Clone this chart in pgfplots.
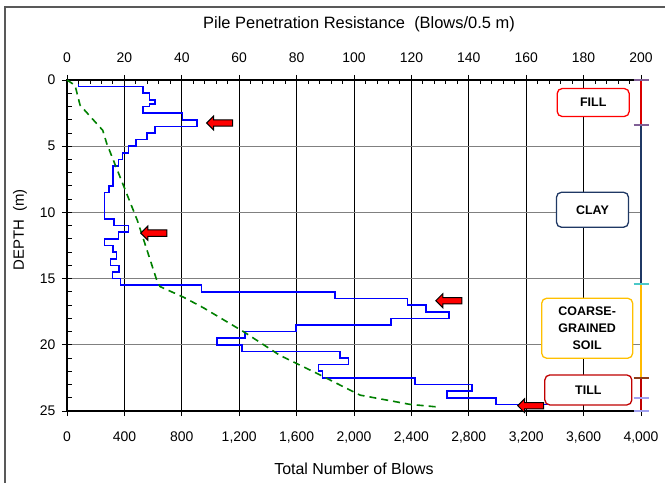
\documentclass[border=0pt]{standalone}
\usepackage{fontspec}
\setmainfont{Liberation Sans}
\usepackage{pgfplots}
\pgfplotsset{compat=1.18}

\definecolor{blowblue}{RGB}{0,0,255}
\definecolor{cumgreen}{RGB}{0,128,0}
\definecolor{fillred}{RGB}{255,0,0}
\definecolor{claynavy}{RGB}{31,56,100}
\definecolor{coarseyel}{RGB}{255,192,0}
\definecolor{tillred}{RGB}{192,0,0}
\definecolor{arrowred}{RGB}{255,0,0}
\definecolor{capmauve}{RGB}{128,96,150}
\definecolor{capcyan}{RGB}{75,200,200}
\definecolor{capbrown}{RGB}{140,60,25}
\definecolor{caplav}{RGB}{160,160,240}

\pgfplotsset{
  pilebase/.style={
    scale only axis, width=574bp, height=331bp,
    at={(0,0)}, anchor=south west,
    ymin=0, ymax=25, y dir=reverse,
    axis line style={black, line width=1.1bp},
    tick style={black, line width=0.8bp},
    tick align=outside, major tick length=5bp,
    ticklabel style={font=\fontsize{14}{16}\selectfont},
    /pgf/number format/assume math mode=true,
    clip=false,
  },
}

% left-pointing block arrow, tip at (axis cs:#1,#2)
\newcommand{\blowarrow}[2]{%
  \draw[black, fill=arrowred, line width=1bp, line join=miter]
    (axis cs:#1,#2) -- ++(7bp,7bp) -- ++(0,-3.8bp) -- ++(19bp,0)
    -- ++(0,-6.4bp) -- ++(-19bp,0) -- ++(0,-3.8bp) -- cycle;}

\begin{document}
\begin{tikzpicture}
\path[use as bounding box] (-67bp,-72bp) rectangle (598bp,411bp);

% chart frame (left and top edges only show)
\draw[black!65, line width=2bp] (-62bp,-72bp) -- (-62bp,404bp) -- (598bp,404bp);

% blows per 0.5 m (upper scale)
\begin{axis}[pilebase,
  xmin=0, xmax=200,
  xtick={0,20,...,200},
  xtick pos=right, xticklabel pos=right,
  xticklabel shift=9bp,
  ytick={0,5,...,25}, ytick pos=left,
  yticklabel shift=3bp,
  grid=major,
  x grid style={black, line width=0.8bp},
  y grid style={black!50, line width=1.3bp},
]
\addplot[blowblue, line width=1.6bp] coordinates {
  (4,0) (4,0.5) (26.4,0.5) (26.4,1.0) (28.7,1.0) (28.7,1.5) (30.7,1.5) (30.7,1.8)
  (28.7,1.8) (28.7,2.0) (26.4,2.0) (26.4,2.5) (40.3,2.5) (40.3,3.0) (45.2,3.0)
  (45.2,3.5) (30.7,3.5) (30.7,4.0) (27.8,4.0) (27.8,4.5) (24,4.5) (24,5)
  (21.4,5) (21.4,5.5) (19.4,5.5) (19.4,6) (17.9,6) (17.9,6.5) (16.1,6.5)
  (16.1,8) (14.7,8) (14.7,8.5) (13,8.5) (13,10.5) (16.3,10.5) (16.3,11)
  (21.4,11) (21.4,11.5) (17.9,11.5) (17.9,12) (13,12) (13,12.5) (16.1,12.5)
  (16.1,13) (17.3,13) (17.3,13.5) (15.2,13.5) (15.2,14) (18.2,14) (18.2,14.5)
  (15.9,14.5) (15.9,15) (18.7,15) (18.7,15.5) (46.9,15.5) (46.9,16) (93.4,16)
  (93.4,16.5) (118.7,16.5) (118.7,17) (125.1,17) (125.1,17.5) (133.1,17.5)
  (133.1,18) (112.9,18) (112.9,18.5) (79.7,18.5) (79.7,19) (62,19) (62,19.5)
  (52.2,19.5) (52.2,20) (60.9,20) (60.9,20.5) (95.1,20.5) (95.1,21) (98.1,21)
  (98.1,21.5) (87.6,21.5) (87.6,22) (89,22) (89,22.5) (121.3,22.5) (121.3,23)
  (141.2,23) (141.2,23.5) (132.3,23.5) (132.3,24) (149.5,24) (149.5,24.5)
  (188,24.5)
};
\end{axis}

% inward minor ticks: every 4 blows (11.48bp) on top, every 1 m (13.24bp) on the left
\foreach \k in {1,...,49} {
  \draw[black, line width=0.9bp] (\k*11.48bp,331bp) -- ++(0,-4.5bp);
}
\foreach \k in {1,...,24} {
  \draw[black, line width=0.9bp] (0,331bp-\k*13.24bp) -- ++(4.5bp,0);
}

% total number of blows (lower scale)
\begin{axis}[pilebase,
  xmin=0, xmax=4000,
  xtick={0,400,...,4000}, xtick pos=left, xticklabel pos=left,
  xticklabel shift=12bp,
  scaled x ticks=false,
  xticklabel style={/pgf/number format/1000 sep={,}},
  ytick=\empty,
]
\addplot[cumgreen, line width=1.6bp, dash pattern=on 7bp off 5bp] coordinates {
  (0,0) (56,0.4) (91,1.9) (249,3.8) (277,4.8) (490,10.6) (625,15.1)
  (648,15.6) (811,16.4) (950,17.2) (1229,19.0) (1484,20.8) (1740,22.15)
  (2042,23.8) (2390,24.5) (2588,24.7)
};

% soil column on the right edge
\draw[red!85!black, line width=2bp] (axis cs:4000,0) -- (axis cs:4000,3.4);
\draw[claynavy, line width=2bp] (axis cs:4000,3.4) -- (axis cs:4000,15.4);
\draw[coarseyel!90!orange, line width=2bp] (axis cs:4000,15.4) -- (axis cs:4000,22.5);
\draw[red!75!black, line width=2bp] (axis cs:4000,22.5) -- (axis cs:4000,25);
\draw[capmauve, line width=2.2bp] (axis cs:4000,0) ++(-7.5bp,0) -- ++(15bp,0);
\draw[capmauve, line width=2.2bp] (axis cs:4000,3.4) ++(-7.5bp,0) -- ++(15bp,0);
\draw[capcyan, line width=2.2bp] (axis cs:4000,15.4) ++(-7.5bp,0) -- ++(15bp,0);
\draw[capbrown, line width=2.2bp] (axis cs:4000,22.5) ++(-7.5bp,0) -- ++(15bp,0);
\draw[caplav, line width=2.2bp] (axis cs:4000,24) ++(-7.5bp,0) -- ++(15bp,0);
\draw[caplav, line width=2.2bp] (axis cs:4000,25) ++(-7.5bp,0) -- ++(15bp,0);

\tikzset{soilbox/.style={fill=white, rounded corners=5bp, line width=1.3bp,
  inner sep=0pt, align=center, font=\fontsize{12.5}{16.7}\selectfont\bfseries}}
\node[soilbox, draw=fillred, minimum width=72bp, minimum height=28bp] at (axis cs:3667,1.7) {FILL};
\node[soilbox, draw=claynavy, minimum width=72bp, minimum height=35bp] at (axis cs:3662,9.8) {CLAY};
\node[soilbox, draw=coarseyel, minimum width=91bp, minimum height=60bp] at (axis cs:3625,18.75) {COARSE-\\GRAINED\\SOIL};
\node[soilbox, draw=tillred, minimum width=87bp, minimum height=30bp] at (axis cs:3633,23.41) {TILL};

\blowarrow{973}{3.25}
\blowarrow{514}{11.56}
\blowarrow{2570}{16.67}
\blowarrow{3141}{24.6}
\end{axis}

\node[font=\fontsize{16.5}{19}\selectfont] at (292bp,387bp) {Pile Penetration Resistance\ \ (Blows/0.5 m)};
\node[font=\fontsize{16}{19}\selectfont] at (287bp,-58bp) {Total Number of Blows};
\node[font=\fontsize{15}{18}\selectfont, rotate=90] at (-47bp,181bp) {DEPTH\ \ (m)};
\end{tikzpicture}
\end{document}
